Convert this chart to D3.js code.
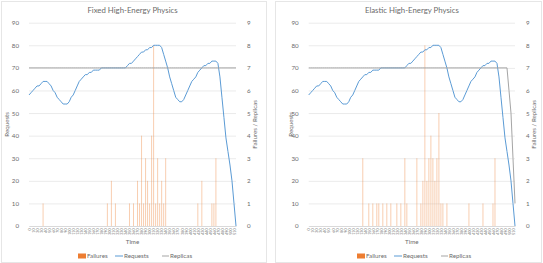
<!DOCTYPE html>
<html>
<head>
<meta charset="utf-8">
<script src="https://cdn.jsdelivr.net/npm/d3@7"></script>
<style>
  body { margin: 0; background: #fff; }
  svg { display: block; font-family: Lato, "Liberation Sans", sans-serif; }
</style>
</head>
<body>
<div id="chart"></div>
<script>
// time steps on the category axis (seconds)
const timeSteps = d3.range(0, 520, 5);

const requests = [
  58,59,60,61,62,62,63,64,64,64, 63,62,60,59,57,56,55,54,54,54,
  55,57,58,60,62,64,65,66,67,67, 68,68,69,69,69,69,70,70,70,70,
  70,70,70,70,70,70,70,70,70,71, 72,72,73,74,75,76,77,77,78,78,
  79,79,80,80,80,80,79,76,73,70, 66,63,60,57,56,55,55,56,58,60,
  62,64,65,66,68,69,70,71,71,72, 72,73,73,73,72,66,57,48,39,33,
  27,20,10,0
];

const failuresFixed = [
  0,0,0,0,0,0,0,1,0,0, 0,0,0,0,0,0,0,0,0,0,
  0,0,0,0,0,0,0,0,0,0, 0,0,0,0,0,0,0,0,0,1,
  0,2,0,1,0,0,0,0,0,0, 1,0,1,0,2,1,4,1,3,2,
  1,4,8,1,3,1,2,1,3,0, 0,0,0,0,0,0,0,0,0,0,
  0,0,0,0,1,0,2,0,0,0, 0,1,1,3,0,0,0,0,0,0,
  0,0,0,0
];

const failuresElastic = [
  0,0,0,0,0,0,0,0,0,0, 0,0,0,0,0,0,0,0,0,0,
  0,0,0,0,0,0,0,3,0,0, 1,0,1,0,1,1,0,1,0,1,
  0,1,0,0,1,0,1,0,3,1, 0,0,0,0,3,0,1,2,8,2,
  3,4,3,2,3,5,1,1,0,1, 0,0,0,0,0,0,0,0,0,0,
  1,0,0,0,0,0,0,1,0,0, 0,0,1,3,0,0,0,0,0,0,
  0,0,0,0
];

const replicasFixed = [
  7,7,7,7,7,7,7,7,7,7, 7,7,7,7,7,7,7,7,7,7,
  7,7,7,7,7,7,7,7,7,7, 7,7,7,7,7,7,7,7,7,7,
  7,7,7,7,7,7,7,7,7,7, 7,7,7,7,7,7,7,7,7,7,
  7,7,7,7,7,7,7,7,7,7, 7,7,7,7,7,7,7,7,7,7,
  7,7,7,7,7,7,7,7,7,7, 7,7,7,7,7,7,7,7,7,7,
  7,7,7,7
];

const replicasElastic = [
  7,7,7,7,7,7,7,7,7,7, 7,7,7,7,7,7,7,7,7,7,
  7,7,7,7,7,7,7,7,7,7, 7,7,7,7,7,7,7,7,7,7,
  7,7,7,7,7,7,7,7,7,7, 7,7,7,7,7,7,7,7,7,7,
  7,7,7,7,7,7,7,7,7,7, 7,7,7,7,7,7,7,7,7,7,
  7,7,7,7,7,7,7,7,7,7, 7,7,7,7,7,7,7,7,7,7,
  6,5,3,1
];

const leftTicks = [0,10,20,30,40,50,60,70,80,90];
const rightTicks = [0,1,2,3,4,5,6,7,8,9];

const W = 543, H = 263;
const svg = d3.select('#chart').append('svg').attr('width', W).attr('height', H);

const panels = [
  { title: 'Fixed High-Energy Physics', box: [1, 1, 265, 261], plot: [29, 236],
    failures: failuresFixed, replicas: replicasFixed, yTitleX: 7, y2TitleX: 255, legendX: 78 },
  { title: 'Elastic High-Energy Physics', box: [275, 1, 266, 261], plot: [308.7, 515],
    failures: failuresElastic, replicas: replicasElastic, yTitleX: 291, y2TitleX: 534, legendX: 357 }
];

const textColor = '#6b6b6b';

panels.forEach(p => {
  const [x0, x1] = p.plot;
  const g = svg.append('g');

  // chart area border
  g.append('rect')
    .attr('x', p.box[0] + 0.5).attr('y', p.box[1] + 0.5)
    .attr('width', p.box[2]).attr('height', p.box[3])
    .attr('fill', '#fff').attr('stroke', '#e6e6e6');

  const x = d3.scalePoint().domain(timeSteps).range([x0, x1]);
  const y = d3.scaleLinear().domain([0, 90]).range([226, 22.7]);
  const y2 = d3.scaleLinear().domain([0, 9]).range([226, 22.7]);

  // gridlines
  g.append('g')
    .attr('transform', `translate(${x0},0)`)
    .call(d3.axisLeft(y).tickValues(leftTicks).tickSize(-(x1 - x0)).tickFormat(''))
    .call(s => s.select('.domain').remove())
    .call(s => s.selectAll('line').attr('stroke', '#ebebeb'));

  // left axis labels
  g.append('g')
    .attr('transform', `translate(${x0 - 7},0)`)
    .call(d3.axisLeft(y).tickValues(leftTicks).tickSize(0))
    .call(s => s.select('.domain').remove())
    .call(s => s.selectAll('text').attr('fill', textColor).style('font-size', '6.2px')
      .style('font-family', 'Lato, "Liberation Sans", sans-serif'));

  // right axis labels
  g.append('g')
    .attr('transform', `translate(${x1 + 8},0)`)
    .call(d3.axisRight(y2).tickValues(rightTicks).tickSize(0))
    .call(s => s.select('.domain').remove())
    .call(s => s.selectAll('text').attr('fill', textColor).style('font-size', '6.2px')
      .style('font-family', 'Lato, "Liberation Sans", sans-serif'));

  // x axis
  const xAxis = g.append('g')
    .attr('transform', `translate(0,${y(0)})`)
    .call(d3.axisBottom(x).tickValues(timeSteps.filter((d, i) => i % 2 === 0)).tickSize(0));
  xAxis.select('.domain').attr('stroke', '#d9d9d9');
  xAxis.selectAll('text')
    .attr('fill', textColor)
    .style('font-size', '3.6px')
    .style('font-family', 'Lato, "Liberation Sans", sans-serif')
    .attr('text-anchor', 'end')
    .attr('transform', 'rotate(-90)')
    .attr('x', -2.5).attr('y', 0).attr('dy', '0.35em');

  // failure bars
  g.append('g').selectAll('rect')
    .data(p.failures.map((v, i) => ({ t: timeSteps[i], v })).filter(d => d.v > 0))
    .join('rect')
    .attr('x', d => x(d.t) - 0.5)
    .attr('width', 1)
    .attr('y', d => y2(d.v))
    .attr('height', d => y2(0) - y2(d.v))
    .attr('fill', '#ed7d31')
    .attr('fill-opacity', 0.38);

  // requests line
  g.append('path')
    .datum(requests)
    .attr('d', d3.line().x((d, i) => x(timeSteps[i])).y(d => y(d)))
    .attr('fill', 'none')
    .attr('stroke', '#5b9bd5')
    .attr('stroke-width', 1);

  // replicas line
  g.append('path')
    .datum(p.replicas)
    .attr('d', d3.line().x((d, i) => x(timeSteps[i])).y(d => y2(d)))
    .attr('fill', 'none')
    .attr('stroke', '#a5a5a5')
    .attr('stroke-width', 1);

  // titles
  const cx = (x0 + x1) / 2;
  g.append('text')
    .attr('x', cx).attr('y', 12.5)
    .attr('text-anchor', 'middle')
    .attr('fill', textColor).style('font-size', '7.8px')
    .text(p.title);

  g.append('text')
    .attr('x', cx).attr('y', 244)
    .attr('text-anchor', 'middle')
    .attr('fill', textColor).style('font-size', '6.2px')
    .text('Time');

  g.append('text')
    .attr('transform', `translate(${p.yTitleX},${(y(0) + y(90)) / 2}) rotate(-90)`)
    .attr('text-anchor', 'middle').attr('dy', '0.35em')
    .attr('fill', textColor).style('font-size', '6.2px')
    .text('Requests');

  g.append('text')
    .attr('transform', `translate(${p.y2TitleX},${(y(0) + y(90)) / 2}) rotate(-90)`)
    .attr('text-anchor', 'middle').attr('dy', '0.35em')
    .attr('fill', textColor).style('font-size', '6.2px')
    .text('Failures / Replicas');

  // legend
  const lg = g.append('g').attr('transform', `translate(${p.legendX},256)`);
  lg.append('rect').attr('x', 0).attr('y', -2.5).attr('width', 8).attr('height', 5).attr('fill', '#ed7d31');
  lg.append('text').attr('x', 9).attr('y', 0).attr('dy', '0.35em')
    .attr('fill', textColor).style('font-size', '6.2px').text('Failures');
  lg.append('line').attr('x1', 37).attr('x2', 45).attr('y1', 0).attr('y2', 0)
    .attr('stroke', '#5b9bd5').attr('stroke-width', 1);
  lg.append('text').attr('x', 46).attr('y', 0).attr('dy', '0.35em')
    .attr('fill', textColor).style('font-size', '6.2px').text('Requests');
  lg.append('line').attr('x1', 84).attr('x2', 91).attr('y1', 0).attr('y2', 0)
    .attr('stroke', '#a5a5a5').attr('stroke-width', 1);
  lg.append('text').attr('x', 92).attr('y', 0).attr('dy', '0.35em')
    .attr('fill', textColor).style('font-size', '6.2px').text('Replicas');
});
</script>
</body>
</html>
